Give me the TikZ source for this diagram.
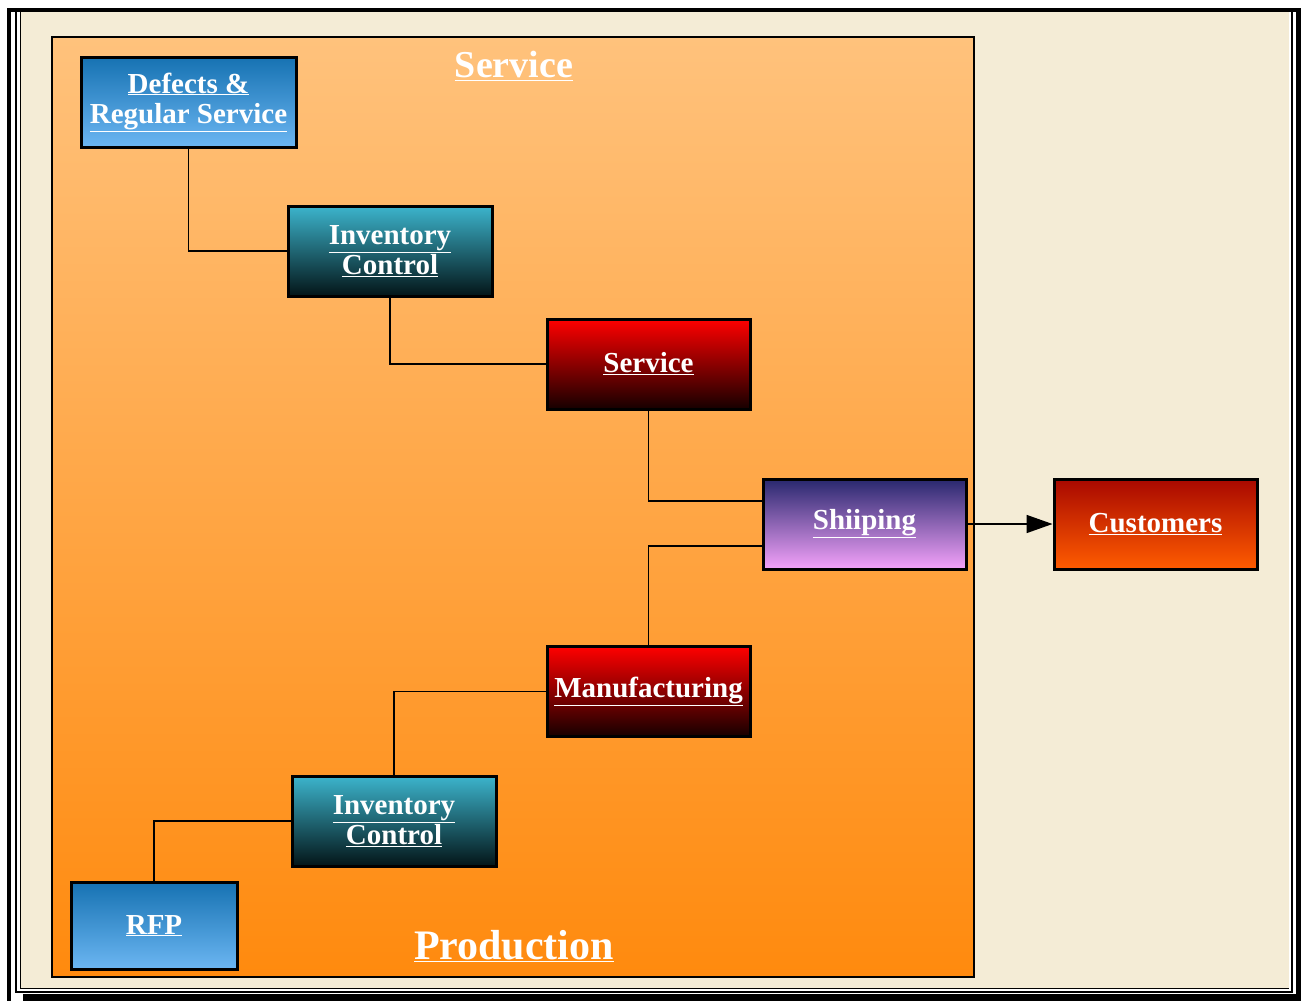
\documentclass[tikz,border=0pt]{standalone}
\usepackage{fontspec}
\setmainfont{Liberation Serif}
\usetikzlibrary{arrows.meta,calc}
\definecolor{cream}{HTML}{F4ECD6}
\definecolor{orTop}{HTML}{FFC27C}
\definecolor{orBot}{HTML}{FF8A0E}
\definecolor{blTop}{HTML}{1672B2}
\definecolor{blBot}{HTML}{6CB6F2}
\definecolor{tlTop}{HTML}{3CB4CC}
\definecolor{tlBot}{HTML}{031518}
\definecolor{rdTop}{HTML}{FF0000}
\definecolor{rdBot}{HTML}{160000}
\definecolor{puTop}{HTML}{28286E}
\definecolor{puBot}{HTML}{F4A2FA}
\definecolor{cuTop}{HTML}{A80800}
\definecolor{cuBot}{HTML}{FF5C00}
\newcommand{\ul}[1]{\underline{#1}}
\tikzset{
  box/.style={draw=black, line width=3pt, minimum width=203pt, minimum height=90pt,
    inner sep=0pt, text=white, font=\fontsize{29}{30}\selectfont\bfseries, align=center},
  bluebox/.style={box, top color=blTop, bottom color=blBot},
  tealbox/.style={box, top color=tlTop, bottom color=tlBot},
  redbox/.style={box, top color=rdTop, bottom color=rdBot},
  purplebox/.style={box, top color=puTop, bottom color=puBot},
  custbox/.style={box, top color=cuTop, bottom color=cuBot},
  conn/.style={draw=black, line width=1.6pt},
  title/.style={text=white, font=\fontsize{38}{40}\selectfont\bfseries, inner sep=0pt}
}
\begin{document}
\begin{tikzpicture}[x=1pt,y=-1pt]
\useasboundingbox (0,0) rectangle (1303,1001);
\fill[white] (0,0) rectangle (1303,1001);
% outer frame
\fill[black] (7,8) rectangle (1301,1001);
\fill[white] (11,12) rectangle (1296,994);
\fill[white] (11,994) rectangle (23,1001);
\draw[black, line width=2pt] (16,11) rectangle (1292,992);
\fill[cream] (21,12) rectangle (1289,988);
\draw[black, line width=1pt] (20.5,12) -- (20.5,988.5) -- (1289,988.5);
% container
\draw[black, line width=2.2pt, top color=orTop, bottom color=orBot] (52,37) rectangle (974,977);
\node[title] (tserv) at (514,66) {\ul{Service}};
\node[title, font=\fontsize{42}{44}\selectfont\bfseries] (tprod) at (514,946) {\ul{Production}};
% nodes
\node[bluebox, minimum width=215pt] (def) at (188.5,102) {\ul{Defects \&}\\\ul{Regular Service}};
\node[tealbox, minimum width=204pt] (inv1) at (390,251) {\ul{Inventory}\\\ul{Control}};
\node[redbox] (serv) at (648.5,364) {\ul{Service}};
\node[purplebox] (ship) at (864.5,524) {\ul{Shiiping}};
\node[custbox] (cust) at (1155.5,524) {\ul{Customers}};
\node[redbox] (manu) at (648.5,691.5) {\ul{Manufacturing}};
\node[tealbox, minimum width=204pt] (inv2) at (394,821) {\ul{Inventory}\\\ul{Control}};
\node[bluebox, minimum width=166pt, minimum height=87pt] (rfp) at (154,925.5) {\ul{RFP}};
% connectors
\draw[conn] (def.south) |- (inv1.west);
\draw[conn] (inv1.south) |- (serv.west);
\draw[conn] (serv.south) |- ([yshift=23pt]ship.west);
\draw[conn] ([yshift=-22pt]ship.west) -| (manu.north);
\draw[conn] (manu.west) -| (inv2.north);
\draw[conn] (inv2.west) -| (rfp.north);
\draw[conn, -{Triangle[length=26pt,width=18pt]}] (ship.east) -- (cust.west);
\end{tikzpicture}
\end{document}
